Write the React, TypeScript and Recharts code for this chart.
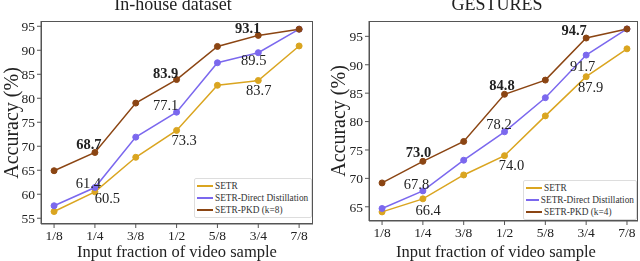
import { LineChart, Line, XAxis, YAxis, LabelList } from "recharts";

const FRACTIONS = ["1/8", "1/4", "3/8", "1/2", "5/8", "3/4", "7/8"];

const INHOUSE_SETR = [56.4, 60.5, 67.7, 73.3, 82.7, 83.7, 90.9];
const INHOUSE_DIRECT = [57.6, 61.4, 71.9, 77.1, 87.4, 89.5, 94.4];
const INHOUSE_PKD = [64.9, 68.7, 79.0, 83.9, 90.8, 93.1, 94.4];

const GESTURES_SETR = [64.1, 66.4, 70.6, 74.0, 81.0, 87.9, 92.8];
const GESTURES_DIRECT = [64.7, 67.8, 73.2, 78.2, 84.2, 91.7, 96.3];
const GESTURES_PKD = [69.2, 73.0, 76.5, 84.8, 87.3, 94.7, 96.3];

const INHOUSE_TICKS = [55, 60, 65, 70, 75, 80, 85, 90, 95];
const GESTURES_TICKS = [65, 70, 75, 80, 85, 90, 95];

const COLORS = { setr: "#daa520", direct: "#7b68ee", pkd: "#8b4513" };
const FONT = "'Liberation Serif', 'DejaVu Serif', serif";
const FRAME = "#555";

// label offsets (dx, dy) from the point, keyed by index
type Notes = Record<number, [number, number]>;

const build = (setr: number[], direct: number[], pkd: number[]) =>
  FRACTIONS.map((f, i) => ({ x: i + 1, f, setr: setr[i], direct: direct[i], pkd: pkd[i] }));

const makeLabel = (notes: Notes, bold: boolean) => (props: any) => {
  const { x, y, value, index } = props;
  const off = notes[index];
  if (!off) return null;
  return (
    <text
      x={x + off[0]}
      y={y + off[1]}
      textAnchor="middle"
      dominantBaseline="central"
      fontFamily={FONT}
      fontSize={14.5}
      fontWeight={bold ? 700 : 400}
      fill="#222"
    >
      {Number(value).toFixed(1)}
    </text>
  );
};

function LegendBox({ items, left, top, width }: { items: { name: string; color: string }[]; left: number; top: number; width: number }) {
  return (
    <div
      style={{
        position: "absolute",
        left,
        top,
        width,
        boxSizing: "border-box",
        border: "1px solid #ddd",
        borderRadius: 2,
        background: "#fff",
        padding: "1px 2px 1px 2px",
        fontFamily: FONT,
        fontSize: 9.3,
        color: "#333",
        lineHeight: "12px",
        whiteSpace: "nowrap",
      }}
    >
      {items.map((p) => (
        <div key={p.name} style={{ display: "flex", alignItems: "center" }}>
          <span style={{ display: "inline-block", width: 16, height: 1.5, background: p.color, marginRight: 2 }} />
          {p.name}
        </div>
      ))}
    </div>
  );
}

interface PanelProps {
  title: string;
  data: any[];
  domain: [number, number];
  ticks: number[];
  k: number;
  yWidth: number;
  marginRight: number;
  bottom: number;
  xDomain: [number, number];
  yLabelX: number;
  titleX: number;
  xLabelX: number;
  notes: { setr: Notes; direct: Notes; pkd: Notes };
  legendPos: { left: number; top: number; width: number };
}

function Panel(p: PanelProps) {
  const plotLeft = p.yWidth;
  const plotRight = 320 - p.marginRight;
  const plotTop = 21;
  const plotBottom = 261 - p.bottom;
  const text = { fontFamily: FONT, color: "#222", whiteSpace: "nowrap" as const };
  return (
    <div style={{ position: "relative", width: 320, height: 261 }}>
      <div style={{ ...text, position: "absolute", top: -6, left: p.titleX - 100, width: 200, textAlign: "center", fontSize: 18 }}>
        {p.title}
      </div>
      <div style={{ ...text, position: "absolute", top: 242, left: p.xLabelX - 130, width: 260, textAlign: "center", fontSize: 16.5 }}>
        Input fraction of video sample
      </div>
      <div
        style={{
          ...text,
          position: "absolute",
          left: p.yLabelX - 80,
          top: (plotTop + plotBottom) / 2 - 12,
          width: 160,
          height: 24,
          lineHeight: "24px",
          textAlign: "center",
          fontSize: 20,
          transform: "rotate(-90deg)",
        }}
      >
        Accuracy (%)
      </div>
      <LineChart
        width={320}
        height={261}
        data={p.data}
        margin={{ top: plotTop, right: p.marginRight, bottom: 0, left: 0 }}
        style={{ position: "absolute", left: 0, top: 0 }}
      >
        <XAxis
          dataKey="x"
          type="number"
          domain={p.xDomain}
          ticks={[1, 2, 3, 4, 5, 6, 7]}
          tickFormatter={(v: number) => FRACTIONS[v - 1]}
          height={p.bottom}
          stroke={FRAME}
          tickSize={4}
          tick={{ fontFamily: FONT, fontSize: 13.5, fill: "#222" }}
          interval={0}
          allowDataOverflow
        />
        <YAxis
          domain={p.domain}
          ticks={p.ticks}
          width={p.yWidth}
          stroke={FRAME}
          tickSize={4}
          tick={{ fontFamily: FONT, fontSize: 13.5, fill: "#222" }}
          interval={0}
          allowDataOverflow
        />
        <Line
          dataKey="setr"
          name="SETR"
          stroke={COLORS.setr}
          strokeWidth={1.5}
          dot={{ r: 3, fill: COLORS.setr, stroke: COLORS.setr, strokeWidth: 1 }}
          isAnimationActive={false}
        >
          <LabelList dataKey="setr" content={makeLabel(p.notes.setr, false)} />
        </Line>
        <Line
          dataKey="direct"
          name="SETR-Direct Distillation"
          stroke={COLORS.direct}
          strokeWidth={1.5}
          dot={{ r: 3, fill: COLORS.direct, stroke: COLORS.direct, strokeWidth: 1 }}
          isAnimationActive={false}
        >
          <LabelList dataKey="direct" content={makeLabel(p.notes.direct, false)} />
        </Line>
        <Line
          dataKey="pkd"
          name={`SETR-PKD (k=${p.k})`}
          stroke={COLORS.pkd}
          strokeWidth={1.5}
          dot={{ r: 3, fill: COLORS.pkd, stroke: COLORS.pkd, strokeWidth: 1 }}
          isAnimationActive={false}
        >
          <LabelList dataKey="pkd" content={makeLabel(p.notes.pkd, true)} />
        </Line>
      </LineChart>
      <div
        style={{
          position: "absolute",
          left: plotLeft,
          top: plotTop,
          width: plotRight - plotLeft,
          height: plotBottom - plotTop,
          boxSizing: "border-box",
          border: `1px solid ${FRAME}`,
          pointerEvents: "none",
        }}
      />
      <LegendBox
        {...p.legendPos}
        items={[
          { name: "SETR", color: COLORS.setr },
          { name: "SETR-Direct Distillation", color: COLORS.direct },
          { name: `SETR-PKD (k=${p.k})`, color: COLORS.pkd },
        ]}
      />
    </div>
  );
}

export default function App() {
  return (
    <div style={{ position: "fixed", left: 0, top: 0, width: 640, height: 261, background: "#fff", display: "flex" }}>
      <Panel
        title="In-house dataset"
        data={build(INHOUSE_SETR, INHOUSE_DIRECT, INHOUSE_PKD)}
        domain={[53.8, 96.1]}
        ticks={INHOUSE_TICKS}
        k={8}
        yWidth={41}
        marginRight={7}
        bottom={37}
        xDomain={[0.68, 7.34]}
        yLabelX={11}
        titleX={173}
        xLabelX={177}
        notes={{
          setr: { 1: [12.5, 6.5], 3: [7.5, 10], 5: [0.5, 9] },
          direct: { 1: [-6.5, -5], 3: [-11, -7], 5: [-4.5, 7] },
          pkd: { 1: [-6, -8], 3: [-11, -7], 5: [-10.5, -7] },
        }}
        legendPos={{ left: 194, top: 178, width: 118 }}
      />
      <Panel
        title="GESTURES"
        data={build(GESTURES_SETR, GESTURES_DIRECT, GESTURES_PKD)}
        domain={[62.5, 97.7]}
        ticks={GESTURES_TICKS}
        k={4}
        yWidth={49}
        marginRight={2}
        bottom={40}
        xDomain={[0.68, 7.27]}
        yLabelX={18}
        titleX={177}
        xLabelX={176}
        notes={{
          setr: { 1: [5.3, 10.7], 3: [7, 9.3], 5: [4.5, 10] },
          direct: { 1: [-6.4, -6.7], 3: [-5.5, -7.5], 5: [-3.5, 10.5] },
          pkd: { 1: [-4.4, -9], 3: [-2.5, -9.5], 5: [-12, -8.5] },
        }}
        legendPos={{ left: 203, top: 180, width: 114 }}
      />
    </div>
  );
}
